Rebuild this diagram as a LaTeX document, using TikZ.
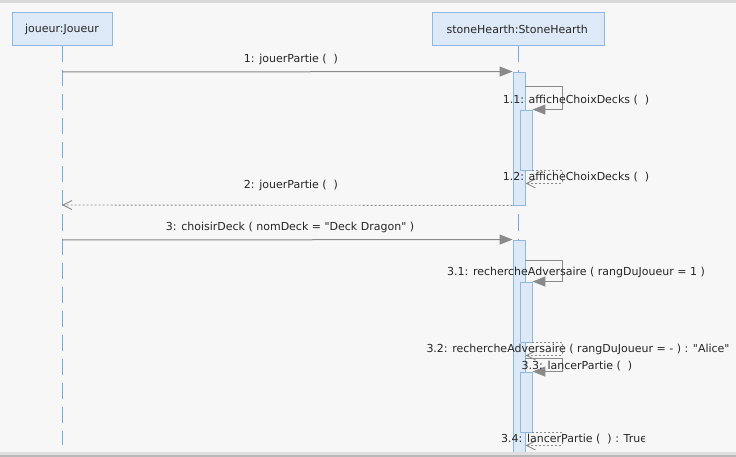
\documentclass[tikz,border=0pt]{standalone}
\usepackage{fontspec}
\setmainfont{DejaVu Sans}
\usetikzlibrary{arrows.meta}
\definecolor{bgfill}{HTML}{F7F7F7}
\definecolor{headfill}{HTML}{DDE9F6}
\definecolor{headline}{HTML}{8DB8E4}
\definecolor{lifecol}{HTML}{7AAADB}
\definecolor{msgcol}{HTML}{8A8A8A}
\newcommand{\dq}{\textquotedbl}
\begin{document}
\begin{tikzpicture}[x=1pt,y=-1pt,
  every node/.style = {font=\fontsize{11}{13}\selectfont, text=black!85, inner sep=0pt},
  head/.style  = {draw=headline, fill=headfill, line width=1pt,
    minimum height=33pt},
  bar/.style   = {draw=headline, fill=headfill, line width=0.9pt,
    minimum width=12pt},
  lifeline/.style = {draw=lifecol, line width=0.9pt, dash pattern=on 16pt off 8pt},
  call/.style  = {draw=msgcol, line width=1pt,
    -{Triangle[length=13pt,width=10pt,fill=msgcol]}},
  reply/.style = {draw=msgcol, line width=0.9pt, dash pattern=on 2pt off 2pt,
    -{Straight Barb[length=9pt,width=9pt,line width=0.9pt]}}]
% frame
\fill[bgfill] (0,0) rectangle (736,457);
\fill[gray!30] (0,0) rectangle (736,3);
% heads and lifelines
\node[head, minimum width=100pt] (joueur) at (62,29.5) {joueur:Joueur};
\node[head, minimum width=172pt] (stone) at (518,29.5) {};
\begin{scope}
  \clip (stone.north west) rectangle ([xshift=-12pt]stone.south east);
  \node[anchor=west] (stonetxt) at ([xshift=15pt]stone.west) {stoneHearth:StoneHearth};
\end{scope}
\coordinate (jend) at (62,445);
\coordinate (send) at (518,452);
\draw[lifeline] (joueur.south) -- (jend);
\draw[lifeline] (stone.south) -- (send);
% activations
\node[bar, minimum height=133pt] (act1) at (519,138.5) {};
\node[bar, minimum height=60pt] (nest1) at (526,140) {};
\node[bar, minimum height=212pt] (act2) at (519,346) {};
\node[bar, minimum height=60pt] (nest2) at (526,312) {};
\node[bar, minimum height=60pt] (nest3) at (526,402) {};
% messages
\coordinate (j1) at (62,72);
\coordinate (j2) at (62,205);
\coordinate (j3) at (62,240);
\draw[call] (j1) -- (act1.north west);
\node (m1) at (291,59) {1: jouerPartie (~~)};
\draw[call] ([yshift=-15pt]act1.north east) -- ++(37,0) |- (nest1.north east);
\node (m11) at (576,100) {1.1: afficheChoixDecks (~~)};
\draw[reply] (nest1.south east) -- ++(30,0) |- ([yshift=-13pt]nest1.south -| act1.east);
\node (m12) at (576,177) {1.2: afficheChoixDecks (~~)};
\draw[reply] (act1.south west) -- (j2);
\node (m2) at (291,185) {2: jouerPartie (~~)};
\draw[call] (j3) -- (act2.north west);
\node (m3) at (290,227) {3: choisirDeck ( nomDeck = \dq Deck Dragon\dq\ )};
\draw[call] ([yshift=-21pt]act2.north east) -- ++(37,0) |- (nest2.north east);
\node (m31) at (576,272) {3.1: rechercheAdversaire ( rangDuJoueur = 1 )};
\draw[reply] (nest2.south east) -- ++(30,0) |- ([yshift=-13pt]nest2.south -| act2.east);
\node (m32) at (578,349) {3.2: rechercheAdversaire ( rangDuJoueur = - ) : \dq Alice\dq};
\draw[call] ([yshift=-119pt]act2.north east) -- ++(37,0) |- (nest3.north east);
\node (m33) at (577,366) {3.3: lancerPartie (~~)};
\draw[reply] (nest3.south east) -- ++(30,0) |- ([yshift=-13pt]nest3.south -| act2.east);
\begin{scope}
  \clip (400,420) rectangle (644,452);
  \node[anchor=west] (m34) at (501,439) {3.4: lancerPartie (~~) : True};
\end{scope}
\fill[gray!25] (0,452) rectangle (736,457);
\fill[gray!55] (0,455) rectangle (736,457);
\end{tikzpicture}
\end{document}
